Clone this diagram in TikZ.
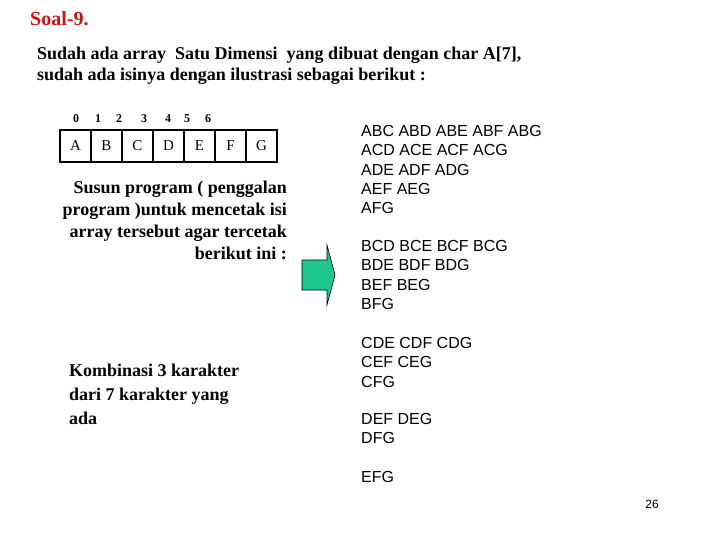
\documentclass[tikz,border=0pt]{standalone}
\usepackage{fontspec}
\setmainfont{Liberation Serif}
\newfontfamily\arial{Liberation Sans}
\begin{document}
\begin{tikzpicture}[x=1pt,y=-1pt,
  cell/.style={draw,line width=2.5pt,minimum width=31pt,minimum height=32pt,inner sep=0pt,font=\fontsize{15}{15}\selectfont},
  idx/.style={font=\bfseries\fontsize{12}{12}\selectfont},
  res/.style={anchor=west,font=\arial\fontsize{16}{19.4}\selectfont,align=left,inner sep=0pt},
  bt/.style={anchor=west,font=\bfseries\fontsize{18}{21}\selectfont,inner sep=0pt}]
\useasboundingbox (0,0) rectangle (720,540);
\node[anchor=west,inner sep=0pt,text={rgb,255:red,200;green,20;blue,20},font=\bfseries\fontsize{20}{20}\selectfont] (title) at (30,19) {Soal-9.};
\node[bt] (l1) at (37,55) {Sudah ada array\ \ Satu Dimensi\ \ yang dibuat dengan char A[7],};
\node[bt] (l2) at (37,76) {sudah ada isinya dengan ilustrasi sebagai berikut :};
\foreach \t/\x [count=\i from 0] in {A/75.5,B/106.5,C/137.5,D/168.5,E/199.5,F/230.5,G/261.5}
  \node[cell] (c\i) at (\x,146) {\t};
\foreach \n/\x in {0/76,1/98,2/119,3/144,4/168,5/187,6/208}
  \node[idx] (i\n) at (\x,119) {\n};
\node[anchor=north east,align=right,inner sep=0pt,font=\bfseries\fontsize{18}{22}\selectfont] (p) at (287,181)
  {Susun program ( penggalan\\program )untuk mencetak isi\\array tersebut agar tercetak\\berikut ini :};
\fill[fill={rgb,255:red,30;green,200;blue,140},draw=black,line width=0.6pt]
  (302,260) -- (327,260) -- (327,245) -- (335,275) -- (327,305) -- (327,290) -- (302,290) -- cycle;
\node[anchor=north west,align=left,inner sep=0pt,font=\bfseries\fontsize{18}{24}\selectfont] (k) at (69,364)
  {Kombinasi 3 karakter\\dari 7 karakter yang\\ada};
\node[res,anchor=north west] (r1) at (361,125) {ABC ABD ABE ABF ABG\\ACD ACE ACF ACG\\ADE ADF ADG\\AEF AEG\\AFG};
\node[res,anchor=north west] (r2) at (361,240) {BCD BCE BCF BCG\\BDE BDF BDG\\BEF BEG\\BFG};
\node[res,anchor=north west] (r3) at (361,337) {CDE CDF CDG\\CEF CEG\\CFG};
\node[res,anchor=north west] (r4) at (361,413) {DEF DEG\\DFG};
\node[res,anchor=north west] (r5) at (361,471) {EFG};
\node[font=\arial\fontsize{12}{12}\selectfont] (pg) at (652,504) {26};
\end{tikzpicture}
\end{document}
